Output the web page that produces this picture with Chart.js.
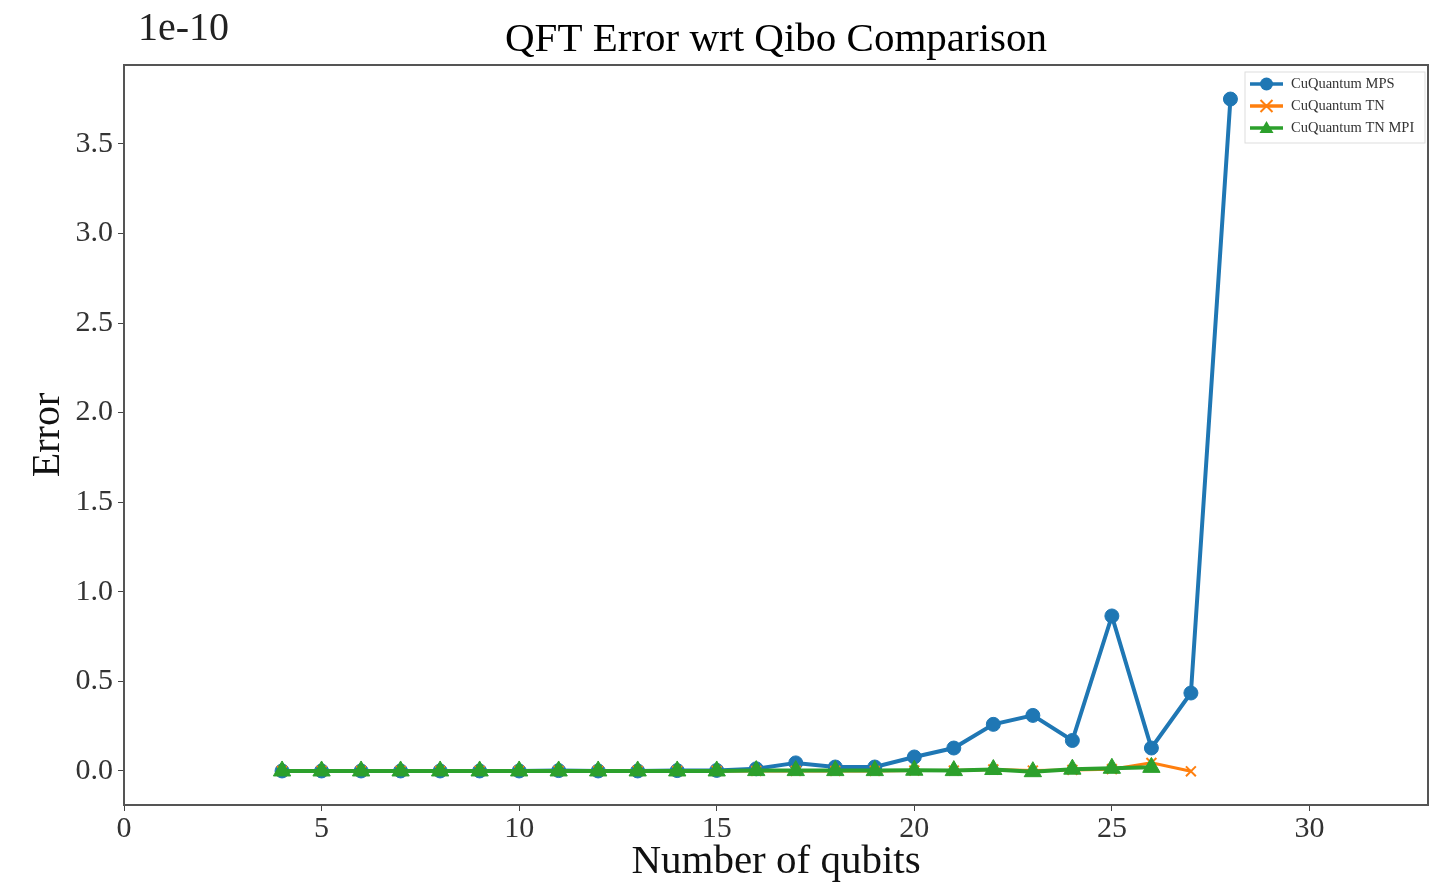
<!DOCTYPE html>
<html>
<head>
<meta charset="utf-8">
<title>QFT Error wrt Qibo Comparison</title>
<script src="https://cdn.jsdelivr.net/npm/chart.js@4"></script>
<style>
  body { margin: 0; background: #fff; }
  #wrap { width: 1445px; height: 888px; }
</style>
</head>
<body>
<div id="wrap"><canvas id="myChart"></canvas></div>
<script>
// values are in units of 1e-10 (the offset text shown above the y axis)
const qubitsMps = [4,5,6,7,8,9,10,11,12,13,14,15,16,17,18,19,20,21,22,23,24,25,26,27,28];
const errorMps = [0,0,0,0,0,0,0,0.002,0,0,0.002,0.003,0.012,0.045,0.022,0.022,0.078,0.128,0.26,0.31,0.17,0.865,0.128,0.435,3.75];

const qubitsTn = [4,5,6,7,8,9,10,11,12,13,14,15,16,17,18,19,20,21,22,23,24,25,26,27];
const errorTn = [0,0,0,0,0,0,0,0,0,0,0,0,0,0,0,0,0.002,0.002,0.008,0.002,0.006,0.01,0.045,-0.002];

const qubitsTnMpi = [4,5,6,7,8,9,10,11,12,13,14,15,16,17,18,19,20,21,22,23,24,25,26];
const errorTnMpi = [0,0,0,0,0,0,0,0,0,0,0,0,0.002,0.002,0.002,0.002,0.004,0.002,0.008,-0.004,0.01,0.015,0.02];

const xTicks = [0,5,10,15,20,25,30];
const yTicks = [0,0.5,1.0,1.5,2.0,2.5,3.0,3.5];

const labels = ["CuQuantum MPS", "CuQuantum TN", "CuQuantum TN MPI"];
const colors = ["#1f77b4", "#ff7f0e", "#2ca02c"];

const toPoints = (xs, ys) => xs.map((x, i) => ({ x: x, y: ys[i] }));

const SERIF = "'Liberation Serif', 'Times New Roman', serif";

/*------------------------------------------
marco completo, titulo, 1e-10 y leyenda
-------------------------------------------*/
const extras = {
  id: "extras",
  afterDraw(chart) {
    const c = chart.ctx;
    const a = chart.chartArea;
    c.save();
    // borde de la caja
    c.strokeStyle = "#555";
    c.lineWidth = 2;
    c.strokeRect(a.left, a.top, a.right - a.left, a.bottom - a.top);

    // titulo
    c.fillStyle = "#000";
    c.font = "41px " + SERIF;
    c.textAlign = "center";
    c.textBaseline = "alphabetic";
    c.fillText("QFT Error wrt Qibo Comparison", (a.left + a.right) / 2, 51);

    // offset text
    c.fillStyle = "#222";
    c.font = "40px " + SERIF;
    c.textAlign = "left";
    c.fillText("1e-10", 138, 40);

    // leyenda
    const bx = a.right - 183, by = a.top + 7, bw = 180, bh = 71;
    c.fillStyle = "rgba(255,255,255,0.8)";
    c.fillRect(bx, by, bw, bh);
    c.strokeStyle = "#ddd";
    c.lineWidth = 1;
    c.strokeRect(bx, by, bw, bh);
    c.font = "14.5px " + SERIF;
    c.textBaseline = "middle";
    labels.forEach((lab, i) => {
      const yy = by + 12 + i * 22;
      const x0 = bx + 5, x1 = bx + 38, xm = (x0 + x1) / 2;
      c.strokeStyle = colors[i];
      c.fillStyle = colors[i];
      c.lineWidth = 3.5;
      c.beginPath();
      c.moveTo(x0, yy);
      c.lineTo(x1, yy);
      c.stroke();
      if (i === 0) {
        c.beginPath();
        c.arc(xm, yy, 6.5, 0, Math.PI * 2);
        c.fill();
      } else if (i === 1) {
        c.lineWidth = 2;
        c.beginPath();
        c.moveTo(xm - 6, yy - 6); c.lineTo(xm + 6, yy + 6);
        c.moveTo(xm - 6, yy + 6); c.lineTo(xm + 6, yy - 6);
        c.stroke();
      } else {
        c.beginPath();
        c.moveTo(xm, yy - 7);
        c.lineTo(xm + 7, yy + 5);
        c.lineTo(xm - 7, yy + 5);
        c.closePath();
        c.fill();
      }
      c.fillStyle = "#333";
      c.fillText(lab, bx + 46, yy);
    });
    c.restore();
  },
};

// en Chart.js el order mas bajo queda encima: TN MPI arriba, MPS abajo
const ctx = document.getElementById("myChart").getContext("2d");
const myChart = new Chart(ctx, {
  type: "scatter",
  data: {
    datasets: [
      {
        label: labels[0],
        data: toPoints(qubitsMps, errorMps),
        showLine: true,
        borderColor: colors[0],
        backgroundColor: colors[0],
        borderWidth: 4,
        pointStyle: "circle",
        pointRadius: 7,
        pointBorderWidth: 1,
        order: 3,
      },
      {
        label: labels[1],
        data: toPoints(qubitsTn, errorTn),
        showLine: true,
        borderColor: colors[1],
        backgroundColor: colors[1],
        borderWidth: 3,
        pointStyle: "crossRot",
        pointRadius: 7,
        pointBorderWidth: 2,
        order: 2,
      },
      {
        label: labels[2],
        data: toPoints(qubitsTnMpi, errorTnMpi),
        showLine: true,
        borderColor: colors[2],
        backgroundColor: colors[2],
        borderWidth: 4,
        pointStyle: "triangle",
        pointRadius: 10,
        pointBorderWidth: 1,
        order: 1,
      },
    ],
  },
  options: {
    responsive: true,
    maintainAspectRatio: false,
    animation: false,
    layout: { padding: { top: 65, right: 17, left: 0, bottom: 0 } },
    plugins: {
      legend: { display: false },
      tooltip: { enabled: false },
    },
    scales: {
      x: {
        type: "linear",
        min: 0,
        max: 33,
        afterFit: (scale) => { scale.height = 83; },
        afterBuildTicks: (scale) => { scale.ticks = xTicks.map((v) => ({ value: v })); },
        grid: { drawOnChartArea: false, drawTicks: true, tickLength: 6, color: "#444" },
        border: { display: true, color: "#555", width: 2 },
        ticks: {
          color: "#333",
          font: { family: SERIF, size: 30 },
          padding: 0,
          maxRotation: 0,
          callback: (v) => String(v),
        },
        title: {
          display: true,
          text: "Number of qubits",
          color: "#111",
          font: { family: SERIF, size: 41 },
          padding: { top: 0, bottom: 1 },
        },
      },
      y: {
        type: "linear",
        min: -0.19,
        max: 3.94,
        afterFit: (scale) => { scale.width = 124; },
        afterBuildTicks: (scale) => { scale.ticks = yTicks.map((v) => ({ value: v })); },
        grid: { drawOnChartArea: false, drawTicks: true, tickLength: 6, color: "#444" },
        border: { display: true, color: "#555", width: 2 },
        ticks: {
          color: "#333",
          font: { family: SERIF, size: 30 },
          padding: 5,
          callback: (v) => Number(v).toFixed(1),
        },
        title: {
          display: true,
          text: "Error",
          color: "#111",
          font: { family: SERIF, size: 40 },
          padding: { top: 24, bottom: 0 },
        },
      },
    },
  },
  plugins: [extras],
});
</script>
</body>
</html>
